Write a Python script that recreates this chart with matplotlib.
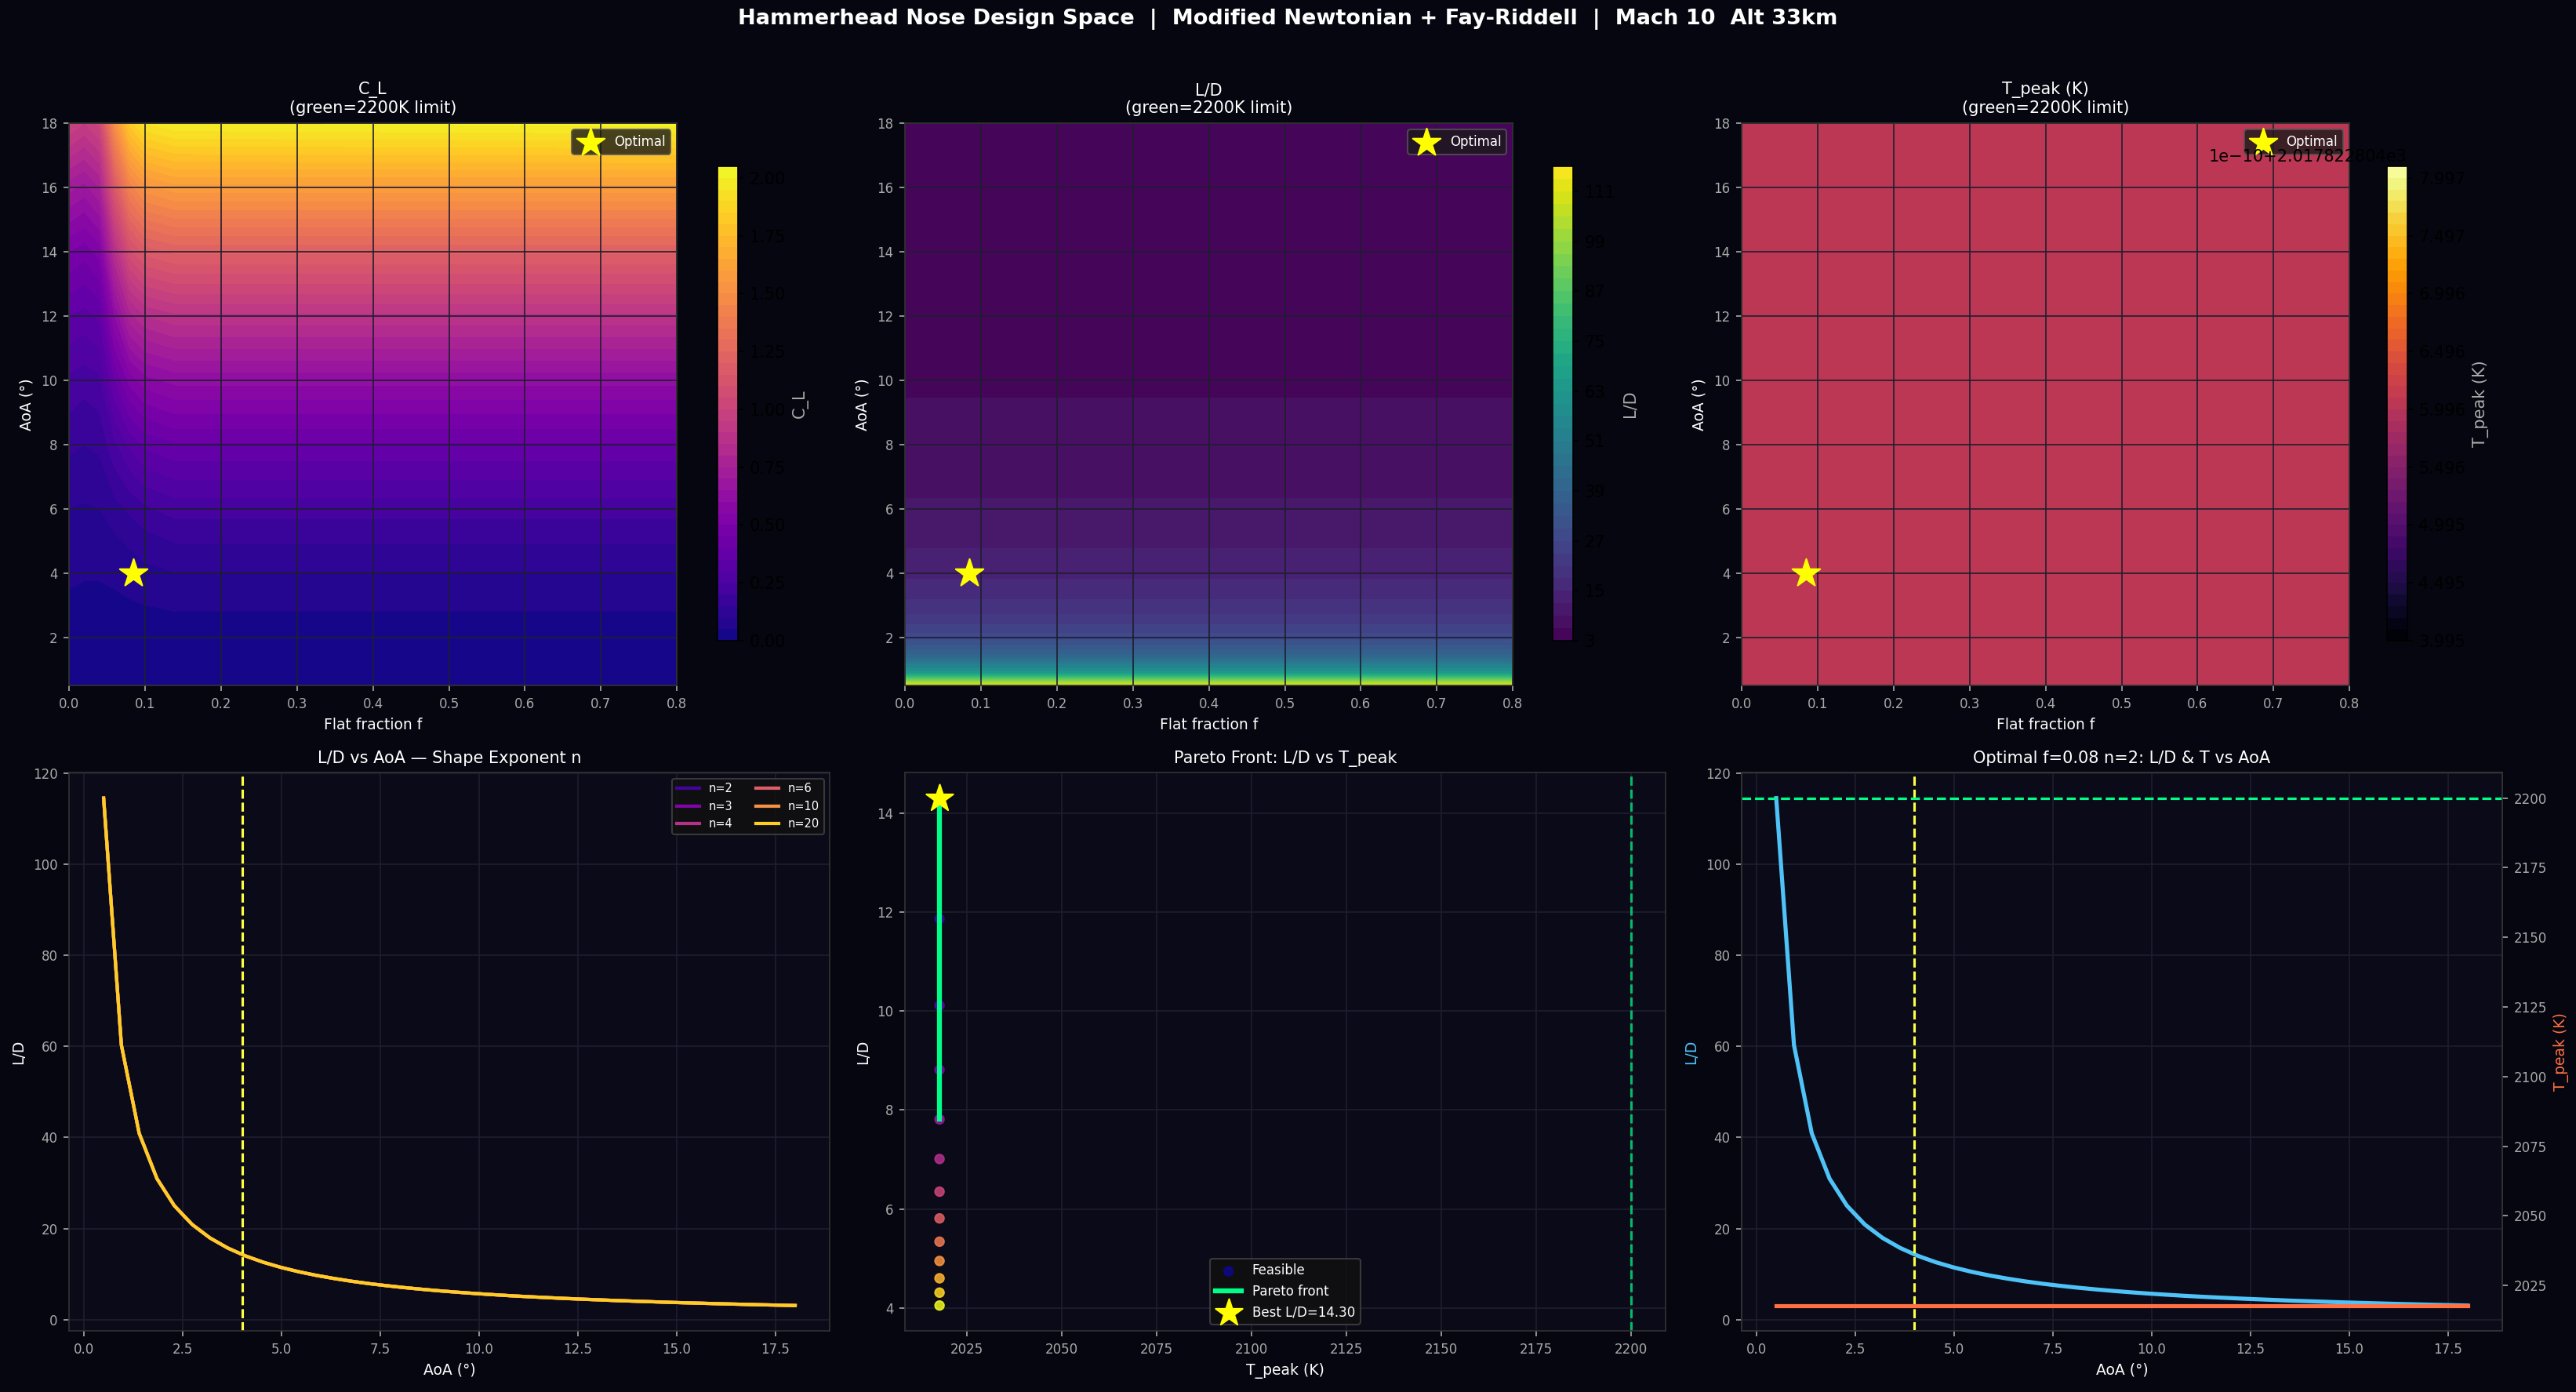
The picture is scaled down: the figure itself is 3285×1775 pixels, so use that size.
#!/usr/bin/env python3
import numpy as np
from matplotlib import pyplot as plt

BG = '#05060f'
PANEL = '#0a0a18'
GRID = '#1e1e2e'
TICK = '#aaaaaa'
GREEN = '#00ff88'

# L/D vs AoA (every shape exponent n lands on the same curve)
aoa = [0.50, 0.95, 1.40, 1.85, 2.29, 2.74, 3.19, 3.64, 4.09, 4.54,
       4.99, 5.44, 5.88, 6.33, 6.78, 7.23, 7.68, 8.13, 8.58, 9.03,
       9.47, 9.92, 10.37, 10.82, 11.27, 11.72, 12.17, 12.62, 13.06, 13.51,
       13.96, 14.41, 14.86, 15.31, 15.76, 16.21, 16.65, 17.10, 17.55, 18.00]
ld = [114.59, 60.30, 40.92, 30.96, 25.01, 20.89, 17.94, 15.72, 13.98, 12.59,
      11.45, 10.50, 9.71, 9.02, 8.41, 7.88, 7.42, 7.00, 6.63, 6.29,
      5.99, 5.71, 5.46, 5.22, 5.01, 4.82, 4.64, 4.47, 4.32, 4.16,
      4.03, 3.90, 3.77, 3.66, 3.55, 3.44, 3.35, 3.25, 3.17, 3.08]
n_values = [2, 3, 4, 6, 10, 20]

# peak temperature is flat (~2017.82 K) over the whole design space
t_peak = 2017.8228040006
t_band = (2017.8228040003997, 2017.8228040008097)
t_limit = 2200

# C_L over the design space: rows = AoA, columns = flat fraction
cl_f = [0.00, 0.02, 0.04, 0.06, 0.08, 0.10, 0.14, 0.80]
cl_aoa = [0.5, 2.0, 3.0, 4.0, 5.0, 6.0, 8.0, 10.0, 12.0, 14.0, 16.0, 18.0]
cl = [
    [0.00, 0.00, 0.00, 0.00, 0.00, 0.00, 0.00, 0.00],
    [0.02, 0.02, 0.02, 0.02, 0.02, 0.02, 0.025, 0.025],
    [0.04, 0.035, 0.035, 0.04, 0.045, 0.05, 0.056, 0.056],
    [0.06, 0.055, 0.055, 0.06, 0.07, 0.085, 0.099, 0.099],
    [0.08, 0.075, 0.075, 0.09, 0.11, 0.13, 0.154, 0.154],
    [0.10, 0.095, 0.10, 0.13, 0.16, 0.19, 0.222, 0.222],
    [0.16, 0.15, 0.16, 0.24, 0.31, 0.36, 0.395, 0.395],
    [0.24, 0.22, 0.24, 0.40, 0.52, 0.58, 0.617, 0.617],
    [0.35, 0.33, 0.36, 0.60, 0.78, 0.85, 0.889, 0.889],
    [0.50, 0.47, 0.52, 0.85, 1.08, 1.17, 1.21, 1.21],
    [0.72, 0.68, 0.75, 1.15, 1.42, 1.53, 1.58, 1.58],
    [1.00, 0.95, 1.02, 1.50, 1.82, 1.95, 2.00, 2.02],
]
ld_f = [0.0, 0.8]

# optimum and pareto sweep
opt_f, opt_aoa, best_ld = 0.0842, 4.0, 14.30
feas_aoa = [4.00, 4.82, 5.65, 6.47, 7.29, 8.12, 8.94, 9.76, 10.59, 11.41, 12.24, 13.06, 13.88]
feas_ld = [14.30, 11.86, 10.11, 8.81, 7.81, 7.01, 6.35, 5.81, 5.34, 4.95, 4.60, 4.31, 4.05]
pareto_ld = [14.30, 11.86, 10.11, 8.81, 7.81]


def style(ax):
    ax.set_facecolor(PANEL)
    ax.tick_params(colors=TICK, labelsize=8)
    for s in ax.spines.values():
        s.set_color('#333333')
    ax.grid(True, color=GRID, lw=0.8)


fig = plt.figure(figsize=(3285/150, 1775/150), dpi=150, facecolor=BG)
fig.suptitle('Hammerhead Nose Design Space  |  Modified Newtonian + Fay-Riddell  |  Mach 10  Alt 33km',
             color='white', fontsize=13, fontweight='bold', y=0.986, va='center')

lefts = [0.0268, 0.3513, 0.6761]
cb_lefts = [0.2785, 0.6027, 0.9266]

F1, A1 = np.meshgrid(cl_f, cl_aoa)
F2, A2 = np.meshgrid(ld_f, aoa)
fields = [
    ('C_L', F1, A1, np.array(cl), 'plasma', np.linspace(0, 2.05, 42)),
    ('L/D', F2, A2, np.column_stack([ld, ld]), 'viridis', np.arange(3, 118, 3)),
    ('T_peak (K)', F1, A1, np.full((len(cl_aoa), len(cl_f)), t_peak), 'inferno', np.linspace(*t_band, 42)),
]

for i, (name, X, Y, Z, cmap, lev) in enumerate(fields):
    ax = fig.add_axes([lefts[i], 0.5076, 0.236, 0.404])
    style(ax)
    cs = ax.contourf(X, Y, Z, levels=lev, cmap=cmap)
    ax.scatter([opt_f], [opt_aoa], marker='*', s=320, color='yellow', zorder=5, label='Optimal')
    ax.set_xlim(0, 0.8)
    ax.set_ylim(cl_aoa[0], cl_aoa[-1])
    ax.set_xlabel('Flat fraction f', color='white', fontsize=9)
    ax.set_ylabel('AoA (°)', color='white', fontsize=9)
    ax.set_title(name + '\n(green=2200K limit)', color='white', fontsize=10)
    ax.legend(loc='upper right', fontsize=8, facecolor='#1a1a1a', edgecolor='#555555', labelcolor='white')
    cax = fig.add_axes([cb_lefts[i], 0.5397, 0.0079, 0.3408])
    cb = fig.colorbar(cs, cax=cax)
    cb.set_label(name, color=TICK, fontsize=10)

# --- L/D vs AoA for each n ---
ax = fig.add_axes([0.0268, 0.0439, 0.2953, 0.401])
style(ax)
cols = plt.cm.plasma(np.linspace(0.1, 0.9, len(n_values)))
for n, c in zip(n_values, cols):
    ax.plot(aoa, ld, color=c, lw=2, label=f'n={n}')
ax.axvline(opt_aoa, color='#ffff44', ls='--', lw=1.5)
ax.set_xlabel('AoA (°)', color='white', fontsize=9)
ax.set_ylabel('L/D', color='white', fontsize=9)
ax.set_title('L/D vs AoA — Shape Exponent n', color='white', fontsize=10)
ax.legend(loc='upper right', ncol=2, fontsize=7, facecolor='#111111', edgecolor='#444444', labelcolor='white')

# --- Pareto front ---
ax = fig.add_axes([0.3513, 0.0439, 0.2953, 0.401])
style(ax)
t_feas = [t_peak] * len(feas_ld)
ax.scatter(t_feas, feas_ld, c=feas_aoa, cmap='plasma', s=30, alpha=0.85, label='Feasible', zorder=2)
ax.plot([t_peak] * len(pareto_ld), pareto_ld, color=GREEN, lw=3, label='Pareto front', zorder=3)
ax.scatter([t_peak], [best_ld], marker='*', s=300, color='yellow', zorder=5, label=f'Best L/D={best_ld:.2f}')
ax.axvline(t_limit, color=GREEN, ls='--', lw=1.5, alpha=0.7)
ax.set_xlabel('T_peak (K)', color='white', fontsize=9)
ax.set_ylabel('L/D', color='white', fontsize=9)
ax.set_title('Pareto Front: L/D vs T_peak', color='white', fontsize=10)
ax.legend(loc='lower center', fontsize=8, facecolor='#111111', edgecolor='#444444', labelcolor='white')

# --- optimal shape: L/D and T vs AoA ---
ax = fig.add_axes([0.6761, 0.0439, 0.2953, 0.401])
style(ax)
ax.plot(aoa, ld, color='#4fc3f7', lw=2.5)
ax.axvline(opt_aoa, color='#ffff44', ls='--', lw=1.5)
ax.set_xlabel('AoA (°)', color='white', fontsize=9)
ax.set_ylabel('L/D', color='#4fc3f7', fontsize=9)
ax.set_title(f'Optimal f={opt_f:.2f} n=2: L/D & T vs AoA', color='white', fontsize=10)
ax2 = ax.twinx()
ax2.plot(aoa, [t_peak] * len(aoa), color='#ff7043', lw=2.5)
ax2.axhline(t_limit, color=GREEN, ls='--', lw=1.5)
ax2.tick_params(colors=TICK, labelsize=8)
for s in ax2.spines.values():
    s.set_color('#333333')
ax2.set_ylabel('T_peak (K)', color='#ff7043', fontsize=9)

fig.savefig('out.png', dpi=150, facecolor=BG)
